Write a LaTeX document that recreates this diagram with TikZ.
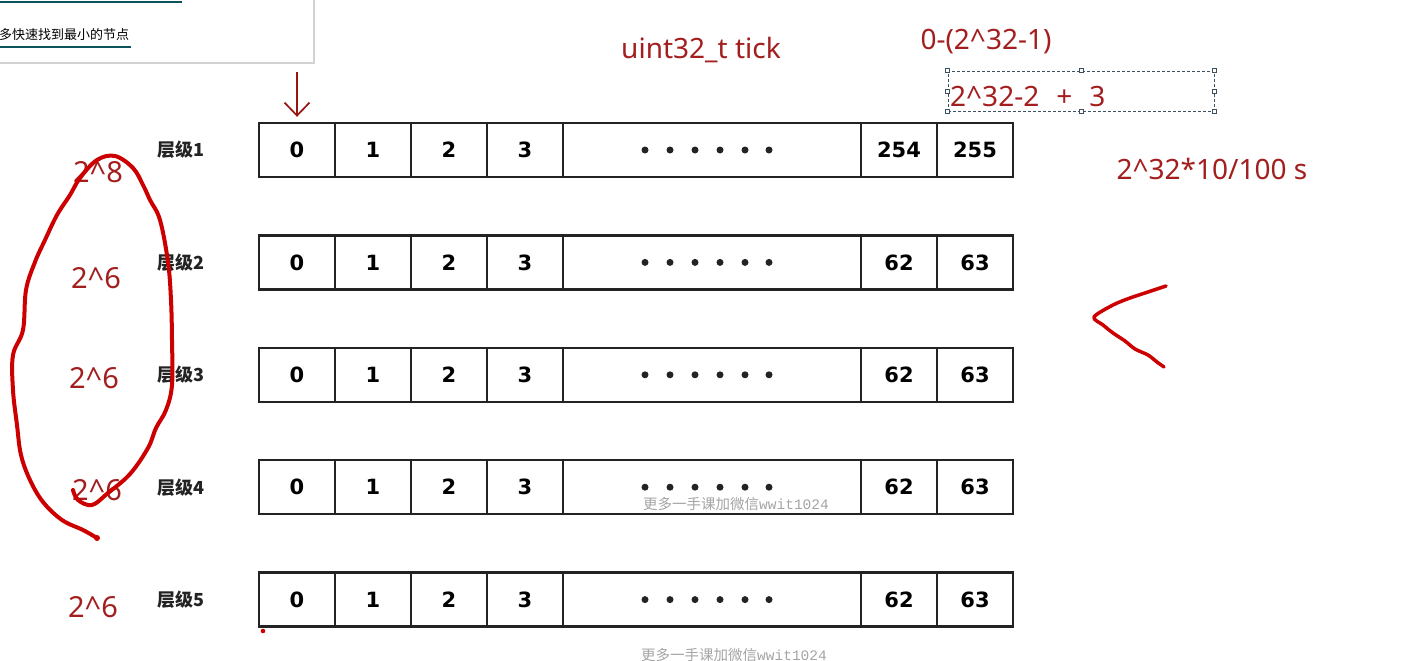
\documentclass[tikz,border=0pt]{standalone}
\usepackage{fontspec}
\usetikzlibrary{arrows.meta}
\setmainfont{Noto Sans}
\newfontfamily\cjk{Noto Sans CJK SC}
\newfontfamily\numfont{DejaVu Sans}
\newfontfamily\wmmono{Liberation Mono}
\definecolor{txtred}{RGB}{163,30,30}
\definecolor{inkred}{RGB}{204,0,0}
\definecolor{arrred}{RGB}{150,20,20}
\definecolor{tealline}{RGB}{12,82,92}
\definecolor{selgray}{RGB}{60,80,95}
\definecolor{cellink}{RGB}{35,35,35}
\definecolor{wmgray}{RGB}{165,165,165}
\begin{document}
\begin{tikzpicture}[x=1pt,y=-1pt,
  cell/.style={draw=cellink, line width=2.4pt, minimum height=54pt, inner sep=0pt,
    font=\numfont\bfseries\fontsize{21}{21}\selectfont},
  lvl/.style={font=\cjk\bfseries\fontsize{18}{18}\selectfont, text=cellink, inner sep=0pt},
  rtext/.style={text=txtred, inner sep=0pt, font=\fontsize{28}{28}\selectfont},
  pow/.style={text=txtred, inner sep=0pt, font=\fontsize{29}{29}\selectfont},
  ink/.style={draw=inkred, line width=4pt, line cap=round, line join=round},
  handle/.style={draw=selgray, fill=white, line width=0.6pt, minimum size=4pt, inner sep=0pt},
  wm/.style={text=wmgray, inner sep=0pt}]
\useasboundingbox (0,0) rectangle (1428,661);
\fill[white] (0,0) rectangle (1428,661);

% top-left panel
\node[anchor=west, inner sep=0pt, font=\cjk\fontsize{13}{13}\selectfont] (paneltext) at (-1,35) {多快速找到最小的节点};
\draw[gray!35, line width=1.5pt] (314,0) -- (314,63) -- (0,63);
\draw[tealline, line width=2.5pt] (0,2) -- (182,2);
\draw[tealline, line width=2.5pt] (0,47) -- (131,47);

% rows
\foreach \r/\a/\b in {1/254/255,2/62/63,3/62/63,4/62/63,5/62/63}{
  \pgfmathsetmacro\yc{150+112.4*(\r-1)}
  \node[cell, minimum width=76pt] (c\r-0) at (297,\yc) {0};
  \node[cell, minimum width=76pt] (c\r-1) at (373,\yc) {1};
  \node[cell, minimum width=76pt] (c\r-2) at (449,\yc) {2};
  \node[cell, minimum width=76pt] (c\r-3) at (525,\yc) {3};
  \node[cell, minimum width=298pt] (c\r-m) at (712,\yc) {};
  \node[cell, minimum width=76pt] (c\r-a) at (899,\yc) {\a};
  \node[cell, minimum width=76pt] (c\r-b) at (975,\yc) {\b};
  \foreach \dx in {645,670,695,720,745,769} \fill[cellink] (\dx,\yc) circle (3.5pt);
  \node[lvl] (l\r) at (181,\yc) {层级\r};
}

% watermarks
\node[wm, anchor=west] (wm1) at (643,504) {{\cjk\fontsize{14.5}{14.5}\selectfont 更多一手课加微信}{\wmmono\fontsize{14.5}{14.5}\selectfont wwit1024}};
\node[wm, anchor=west] (wm2) at (641,655) {{\cjk\fontsize{14.5}{14.5}\selectfont 更多一手课加微信}{\wmmono\fontsize{14.5}{14.5}\selectfont wwit1024}};

% red texts
\node[rtext] (tick) at (701,50) {uint32\_t tick};
\node[rtext] (range) at (986,42) {0-(2\textasciicircum 32-1)};
\node[draw=selgray, dashed, dash pattern=on 3pt off 2pt, line width=0.7pt, minimum width=266pt, minimum height=40pt, inner sep=0pt] (sel) at (1081,91) {};
\foreach \an in {north west,north,north east,east,south east,south,south west,west}
  \node[handle] at (sel.\an) {};
\node[rtext, anchor=west] (sum) at (950,97) {2\textasciicircum 32-2\hspace{17pt}+\hspace{17pt}3};
\node[rtext] (secs) at (1212,169) {2\textasciicircum 32*10/100 s};

% left powers
\node[pow] (p1) at (98,172) {2\textasciicircum 8};
\node[pow] (p2) at (96,278) {2\textasciicircum 6};
\node[pow] (p3) at (94,378) {2\textasciicircum 6};
\node[pow] (p4) at (97,490) {2\textasciicircum 6};
\node[pow] (p5) at (93,607) {2\textasciicircum 6};

% pointer arrow
\coordinate (arrtop) at (297,72);
\draw[arrred, line width=1.7pt, -{Straight Barb[length=13pt,width=25pt,line width=1.7pt]}, shorten >=5pt] (arrtop) -- (c1-0.north);

% hand-drawn loop
\draw[ink] plot[smooth, tension=0.6] coordinates {(73,490) (78,500) (92,505) (108,493) (130,474) (148,448) (156,428) (166,410) (172,385) (172,340) (171,300) (168,262) (160,220) (150,200) (143,185) (133,168) (115,156) (97,160) (80,178) (70,195) (57,215) (45,240) (35,262) (26,290) (23,330) (13,355) (13,390) (17,425) (21,455) (30,480) (43,502) (62,520) (83,530) (97,538)};
\fill[inkred] (97,538) circle (3pt);

% hand-drawn angle
\draw[ink, line width=3.5pt] plot[smooth, tension=0.5] coordinates {(1166,286) (1148,292) (1130,298) (1113,305) (1094,317) (1103,325) (1113,333) (1125,341) (1135,349) (1148,355) (1157,362) (1164,367)};

% stray dot
\fill[inkred] (263,631) circle (2.3pt);
\end{tikzpicture}
\end{document}
